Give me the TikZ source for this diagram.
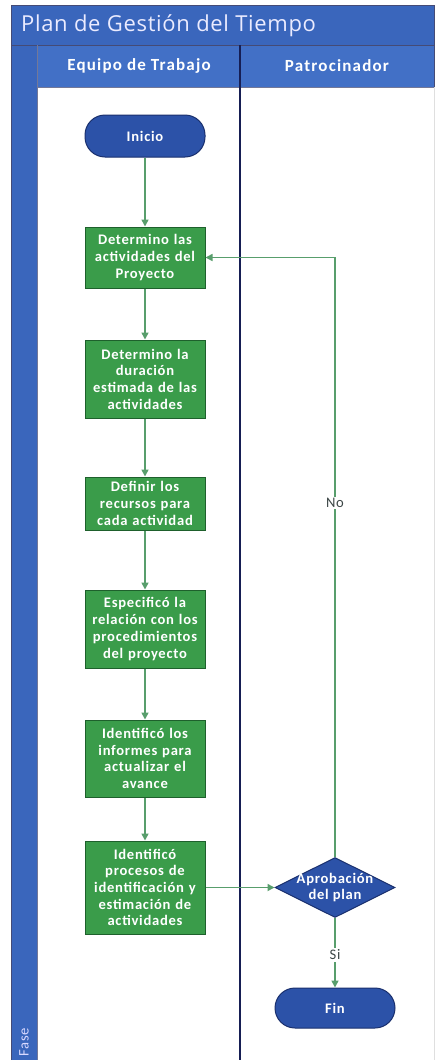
\documentclass[tikz,border=0pt]{standalone}
\usepackage{fontspec}
\setmainfont{Carlito}
\newfontfamily\titlefont{Open Sans}
\newfontfamily\boxfont[LetterSpace=5]{Carlito}
\usetikzlibrary{shapes.geometric,arrows.meta}

\definecolor{poolblue}{RGB}{58,102,188}
\definecolor{hdrblue}{RGB}{66,112,198}
\definecolor{navy}{RGB}{22,30,84}
\definecolor{shapeblue}{RGB}{44,82,168}
\definecolor{shapeedge}{RGB}{26,48,110}
\definecolor{boxgreen}{RGB}{58,156,74}
\definecolor{boxedge}{RGB}{30,96,44}
\definecolor{linkgreen}{RGB}{88,158,108}
\definecolor{labelgray}{RGB}{60,70,70}

\tikzset{
  stepbox/.style={draw=boxedge, line width=1pt, fill=boxgreen, text=white,
    minimum width=120pt, text width=118pt, align=center, inner sep=1pt,
    font=\boxfont\bfseries\fontsize{14.6}{16.7}\selectfont},
  terminal/.style={draw=shapeedge, line width=1pt, fill=shapeblue, text=white,
    minimum width=120pt, rounded corners=20pt,
    font=\boxfont\bfseries\fontsize{14.6}{16.7}\selectfont},
  decision/.style={draw=shapeedge, line width=1pt, fill=shapeblue, diamond,
    minimum width=120pt, minimum height=60pt, inner sep=0pt},
  dectext/.style={text=white, align=center, inner sep=0pt,
    font=\boxfont\bfseries\fontsize{14.6}{16.7}\selectfont},
  link/.style={draw=linkgreen, line width=1.6pt,
    -{Triangle[length=7pt,width=7pt]}},
  linklabel/.style={fill=white, text=labelgray, inner sep=1.5pt,
    font=\boxfont\fontsize{14.6}{16}\selectfont},
  hdrtext/.style={text=white,
    font=\boxfont\bfseries\addfontfeature{LetterSpace=7}\fontsize{17}{20}\selectfont}
}

\begin{document}
\begin{tikzpicture}[x=1pt,y=-1pt]
  \useasboundingbox (0,0) rectangle (447,1060);
  \fill[white] (0,0) rectangle (447,1060);

  % pool: title bar, phase bar and lane headers
  \fill[poolblue] (11,5) rectangle (434,45);
  \fill[poolblue] (11,45) rectangle (37,1060);
  \fill[hdrblue] (37,45) rectangle (434,87);
  \draw[navy!80, line width=0.8pt] (11,45) -- (434,45);
  \draw[navy!60, line width=0.6pt] (37,87) -- (434,87);
  \draw[navy!60, line width=0.6pt] (37,45) -- (37,1060);
  \draw[navy!80, line width=0.8pt] (11,1060) -- (11,5) -- (434,5) -- (434,87);
  \draw[gray!25, line width=0.6pt] (434,87) -- (434,1060);
  \draw[navy, line width=1.5pt] (240,45) -- (240,1060);

  \node[anchor=west, text=white!92!blue, inner sep=0pt,
    font=\titlefont\addfontfeature{LetterSpace=3}\fontsize{22}{26}\selectfont]
    (title) at (21,26) {Plan de Gestión del Tiempo};
  \node[hdrtext] (laneA) at (139,66) {Equipo de Trabajo};
  \node[hdrtext] (laneB) at (337,66) {Patrocinador};
  \node[rotate=90, anchor=west, text=white!85!blue,
    font=\boxfont\fontsize{14.6}{16}\selectfont] (phase) at (24,1060) {Fase};

  % process
  \node[terminal, minimum height=42pt] (start) at (145,136) {Inicio};
  \node[stepbox, minimum height=61pt] (s1) at (145,257.5)
    {Determino las\\actividades del\\Proyecto};
  \node[stepbox, minimum height=78pt] (s2) at (145,379)
    {Determino la\\duración\\estimada de las\\actividades};
  \node[stepbox, minimum height=53pt] (s3) at (145,503.5)
    {Definir los\\recursos para\\cada actividad};
  \node[stepbox, minimum height=78pt] (s4) at (145,629)
    {Especificó la\\relación con los\\procedimientos\\del proyecto};
  \node[stepbox, minimum height=77pt] (s5) at (145,758.5)
    {Identificó los\\informes para\\actualizar el\\avance};
  \node[stepbox, minimum height=93pt] (s6) at (145,887.5)
    {Identificó\\procesos de\\identificación y\\estimación de\\actividades};
  \node[decision] (dec) at (335,887.5) {};
  \node[dectext] (dectxt) at (dec.center) {Aprobación\\del plan};
  \node[terminal, minimum height=40pt] (end) at (335,1008) {Fin};

  % connectors
  \draw[link] (start) -- (s1);
  \draw[link] (s1) -- (s2);
  \draw[link] (s2) -- (s3);
  \draw[link] (s3) -- (s4);
  \draw[link] (s4) -- (s5);
  \draw[link] (s5) -- (s6);
  \draw[link] (s6.east) -- (dec.west);
  \draw[link] (dec.north) -- (dec.north |- s1.east) -- (s1.east);
  \draw[link] (dec.south) -- (end.north);
  \node[linklabel] (no) at (335,503) {No};
  \node[linklabel] (si) at (335,955) {Si};
\end{tikzpicture}
\end{document}
